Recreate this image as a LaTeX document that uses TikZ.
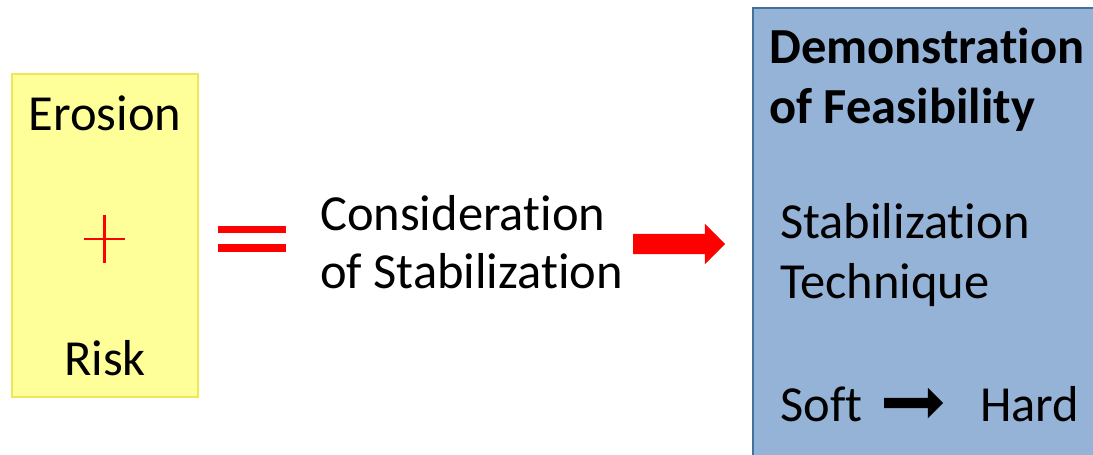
\documentclass[tikz,border=0pt]{standalone}
\usepackage{fontspec}
\setmainfont{Carlito}[Ligatures=NoCommon]
\usepackage{tikz}
\usetikzlibrary{shapes.arrows}

\definecolor{boxyellow}{RGB}{255,255,153}
\definecolor{lineyellow}{RGB}{240,230,90}
\definecolor{boxblue}{RGB}{149,179,215}
\definecolor{lineblue}{RGB}{65,113,156}

\begin{document}
\begin{tikzpicture}[x=1pt, y=-1pt,
  txt/.style={anchor=base west, inner sep=0pt, font=\fontsize{50.5}{60}\selectfont},
  blockarrow/.style={single arrow, anchor=tail, inner xsep=0pt, outer sep=0pt,
    single arrow head extend=10pt}]
\clip (0,0) rectangle (1093,455);
\fill[white] (0,0) rectangle (1093,455);

% left box
\draw[fill=boxyellow, draw=lineyellow, line width=1.2pt] (12,74) rectangle (198,397);
\node[txt, anchor=base] (erosion) at (105,130) {Erosion};
\node[txt, anchor=base] (risk) at (105,375) {Risk};
\draw[red, line width=2.5pt] (84,239)--(125,239);
\draw[red, line width=2.5pt] (104.5,215)--(104.5,263);

% equals
\fill[red] (218,226) rectangle (286,233);
\fill[red] (218,244) rectangle (286,252);

\node[txt] (consid) at (320,230) {Consideration};
\node[txt] (stab) at (320,288) {of Stabilization};

\node[blockarrow, fill=red, inner ysep=10pt, minimum height=92pt] (redarrow) at (633,244) {};

% right box
\draw[fill=boxblue, draw=lineblue, line width=2.5pt] (753,8) rectangle (1110,470);
\node[txt, font=\fontsize{50.5}{60}\bfseries] (demo) at (769,63) {Demonstration};
\node[txt, font=\fontsize{50.5}{60}\bfseries] (feas) at (769,123) {of Feasibility};
\node[txt] (stabtech) at (780,238) {Stabilization};
\node[txt] (techn) at (780,298) {Technique};
\node[txt] (soft) at (780,421) {Soft};
\node[blockarrow, fill=black, inner ysep=5pt, minimum height=59pt] (blackarrow) at (884,403) {};
\node[txt] (hard) at (980,421) {Hard};
\end{tikzpicture}
\end{document}
